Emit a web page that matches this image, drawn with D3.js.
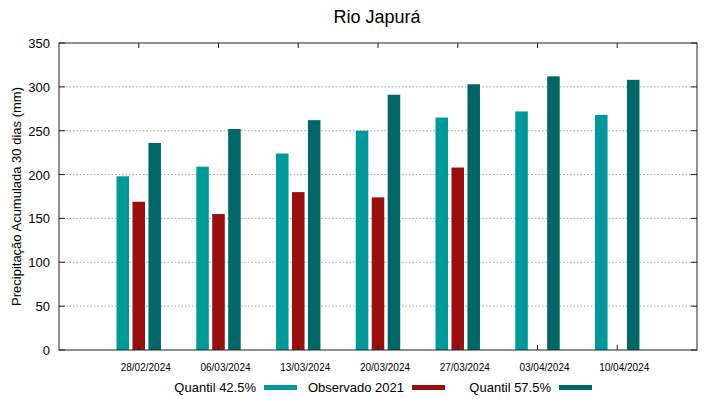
<!DOCTYPE html>
<html>
<head>
<meta charset="utf-8">
<script src="https://cdn.jsdelivr.net/npm/d3@7"></script>
<style>
  body { margin: 0; background: #fff; }
  text { font-family: "Liberation Sans", Arial, sans-serif; fill: #000; }
</style>
</head>
<body>
<script>
// data
const dates = ["28/02/2024", "06/03/2024", "13/03/2024", "20/03/2024",
               "27/03/2024", "03/04/2024", "10/04/2024"];
const q425 = [198, 209, 224, 250, 265, 272, 268];
const obs2021 = [169, 155, 180, 174, 208, null, null];
const q575 = [236, 252, 262, 291, 303, 312, 308];
const yTicks = [0, 50, 100, 150, 200, 250, 300, 350];

const series = [
  { name: "Quantil 42.5%", values: q425, color: "#009999" },
  { name: "Observado 2021", values: obs2021, color: "#990e0e" },
  { name: "Quantil 57.5%", values: q575, color: "#006666" }
];

const W = 719, H = 399;
const mLeft = 59, mRight = 697, mTop = 43, mBottom = 350;

const svg = d3.select("body").append("svg")
  .attr("width", W).attr("height", H);

// gnuplot-like histogram: groups at 0..n-1, range -1..n
const x = d3.scaleLinear().domain([-1, dates.length]).range([mLeft, mRight]);
const y = d3.scaleLinear().domain([0, 350]).range([mBottom, mTop]);

// grid
svg.append("g").selectAll("line")
  .data(yTicks.slice(1, -1))
  .join("line")
  .attr("x1", mLeft).attr("x2", mRight)
  .attr("y1", d => y(d)).attr("y2", d => y(d))
  .attr("stroke", "#a0a0a0")
  .attr("stroke-width", 1)
  .attr("stroke-dasharray", "1.5,2");

// bars
const barW = 0.157, step = 0.2;
series.forEach((s, j) => {
  svg.append("g").selectAll("rect")
    .data(s.values.map((v, i) => ({ i: i, v: v })).filter(d => d.v != null))
    .join("rect")
    .attr("x", d => x(d.i + (j - 1) * step - barW / 2))
    .attr("width", x(barW) - x(0))
    .attr("y", d => y(d.v))
    .attr("height", d => y(0) - y(d.v))
    .attr("fill", s.color);
});

// frame
svg.append("rect")
  .attr("x", mLeft).attr("y", mTop)
  .attr("width", mRight - mLeft).attr("height", mBottom - mTop)
  .attr("fill", "none").attr("stroke", "#222").attr("stroke-width", 1);

// y ticks (left and mirrored right) + labels
const yt = svg.append("g");
yTicks.forEach(t => {
  yt.append("line").attr("x1", mLeft).attr("x2", mLeft + 6)
    .attr("y1", y(t)).attr("y2", y(t)).attr("stroke", "#222");
  yt.append("line").attr("x1", mRight - 6).attr("x2", mRight)
    .attr("y1", y(t)).attr("y2", y(t)).attr("stroke", "#222");
  yt.append("text").attr("x", mLeft - 9).attr("y", y(t) + 5)
    .attr("text-anchor", "end").attr("font-size", 13).text(t);
});

// x ticks + labels
const xt = svg.append("g");
dates.forEach((d, i) => {
  xt.append("line").attr("x1", x(i)).attr("x2", x(i))
    .attr("y1", mBottom).attr("y2", mBottom - 5).attr("stroke", "#222");
  xt.append("line").attr("x1", x(i)).attr("x2", x(i))
    .attr("y1", mTop).attr("y2", mTop + 5).attr("stroke", "#222");
  xt.append("text").attr("x", x(i) + 7).attr("y", 371)
    .attr("text-anchor", "middle").attr("font-size", 10).text(d);
});

// title
svg.append("text").attr("x", 377).attr("y", 23)
  .attr("text-anchor", "middle").attr("font-size", 18).text("Rio Japurá");

// y label
svg.append("text")
  .attr("transform", "translate(21," + ((mTop + mBottom) / 2) + ") rotate(-90)")
  .attr("text-anchor", "middle").attr("font-size", 13)
  .text("Precipitação Acumulada 30 dias (mm)");

// legend
const legendEnds = [256, 404, 551];
series.forEach((s, j) => {
  svg.append("text").attr("x", legendEnds[j]).attr("y", 392)
    .attr("text-anchor", "end").attr("font-size", 13).text(s.name);
  svg.append("rect").attr("x", legendEnds[j] + 8).attr("y", 385)
    .attr("width", 33).attr("height", 5).attr("fill", s.color);
});
</script>
</body>
</html>
